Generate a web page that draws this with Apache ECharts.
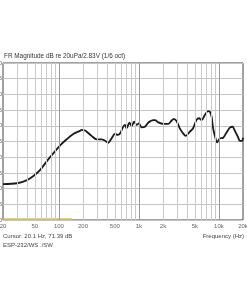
<!DOCTYPE html>
<html><head><meta charset="utf-8">
<script src="https://cdn.jsdelivr.net/npm/echarts@6/dist/echarts.min.js"></script>
<style>html,body{margin:0;padding:0;background:#fff}#c{width:247px;height:296px}</style>
</head><body><div id="c"></div>
<script>
var freqs = [20, 30, 40, 48, 58, 70, 85, 103, 125, 151, 183, 192, 212, 223, 256, 296, 342, 374, 413, 455, 502, 544, 583, 630, 668, 701, 760, 813, 869, 938, 1000, 1082, 1189, 1308, 1400, 1513, 1589, 1747, 2013, 2321, 2553, 2730, 2950, 3245, 3566, 3850, 4318, 4750, 5234, 5640, 6079, 6645, 7312, 7711, 8100, 8466, 9060, 9488, 10250, 11300, 12451, 13700, 14800, 15890, 17270, 18300, 19540, 20000];
var dbValues = [71.4, 71.7, 72.7, 74.0, 75.9, 78.6, 81.2, 83.7, 85.7, 87.4, 88.4, 88.7, 88.5, 88.1, 86.8, 85.7, 85.7, 85.3, 84.6, 86.0, 87.4, 87.1, 87.6, 89.5, 90.3, 89.2, 91.0, 89.9, 91.3, 90.3, 90.8, 89.5, 89.7, 91.0, 91.5, 91.8, 91.8, 91.1, 90.6, 90.6, 91.6, 92.2, 91.5, 89.2, 87.6, 86.8, 88.1, 89.2, 91.8, 92.4, 91.8, 93.4, 94.7, 94.5, 92.9, 89.2, 86.0, 84.7, 86.0, 86.2, 87.9, 89.4, 89.7, 88.3, 86.5, 85.2, 85.2, 86.2];
var markerFreqs = [20, 145];
var markerDb = [60.3, 60.3];
var gridFreqs = [30, 40, 50, 60, 70, 80, 90, 200, 300, 400, 500, 600, 700, 800, 900, 2000, 3000, 4000, 5000, 6000, 7000, 8000, 9000];
var decadeFreqs = [100, 1000, 10000];
var xTickLabels = [20, 50, 100, 200, 500, 1000, 2000, 5000, 10000, 20000];
var yTicks = [60, 65, 70, 75, 80, 85, 90, 95, 100, 105, 110];

var chart = echarts.init(document.getElementById('c'), null, {renderer: 'canvas'});
function fmt(v){ return v >= 1000 ? (v/1000) + 'k' : String(v); }
var txt = {fontFamily: 'Liberation Sans, Arial, sans-serif', fontSize: 6, color: '#444', fontWeight: 'normal'};
chart.setOption({
  animation: false,
  backgroundColor: '#fff',
  title: [
    {text: 'FR Magnitude dB re 20uPa/2.83V (1/6 oct)', left: 4, top: 53, padding: 0, textStyle: Object.assign({}, txt, {color: '#333', fontSize: 6.4})},
    {text: 'Cursor: 20.1 Hz, 71.39 dB', left: 3, top: 233, padding: 0, textStyle: txt},
    {text: 'ESP-232/WS ./SW', left: 3, top: 242, padding: 0, textStyle: txt},
    {text: 'Frequency (Hz)', right: 3, top: 233, padding: 0, textStyle: txt}
  ],
  grid: {left: 3, right: 4, top: 63, bottom: 76, show: true, borderColor: '#444', borderWidth: 1, backgroundColor: '#fff', containLabel: false, outerBoundsMode: 'none'},
  xAxis: {
    type: 'log', logBase: 10, min: 20, max: 20000,
    axisLine: {show: false}, axisTick: {show: false}, splitLine: {show: false},
    axisLabel: {customValues: xTickLabels, formatter: fmt, fontSize: 6, color: '#666', margin: 3, fontFamily: 'Liberation Sans, Arial, sans-serif', showMinLabel: true, showMaxLabel: true, hideOverlap: false}
  },
  yAxis: {
    type: 'value', min: 60, max: 110, interval: 5,
    axisLine: {show: false}, axisTick: {show: false},
    splitLine: {show: true, lineStyle: {color: '#c4c4c4', width: 1}},
    axisLabel: {fontSize: 6, color: '#666', margin: 1, fontFamily: 'Liberation Sans, Arial, sans-serif'}
  },
  series: [
    {type: 'line', data: [], silent: true, z: 1,
     markLine: {silent: true, symbol: 'none', label: {show: false}, animation: false,
       lineStyle: {color: '#cacaca', width: 1, type: 'solid'},
       data: gridFreqs.map(function(f){ return {xAxis: f}; })}},
    {type: 'line', data: [], silent: true, z: 1,
     markLine: {silent: true, symbol: 'none', label: {show: false}, animation: false,
       lineStyle: {color: '#9a9a9a', width: 1, type: 'solid'},
       data: decadeFreqs.map(function(f){ return {xAxis: f}; })}},
    {type: 'line', data: markerFreqs.map(function(f, i){ return [f, markerDb[i]]; }), symbol: 'none', silent: true, z: 3,
     lineStyle: {color: '#d2c94f', width: 1.5}},
    {type: 'line', data: freqs.map(function(f, i){ return [f, dbValues[i]]; }), symbol: 'none', smooth: 0.3, z: 4,
     lineStyle: {color: '#1a1a1a', width: 1.8}}
  ]
});
</script></body></html>
